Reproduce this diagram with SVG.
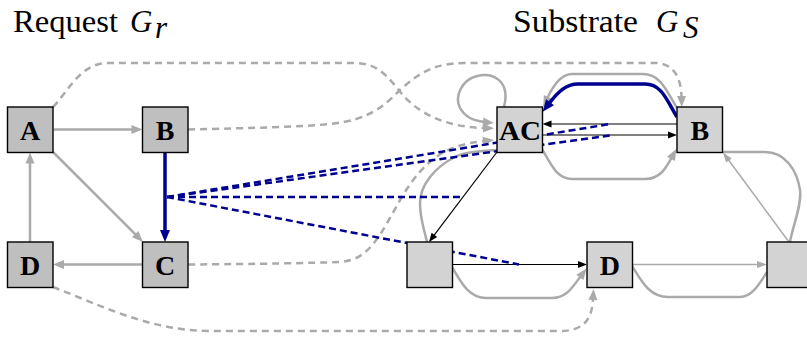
<svg xmlns="http://www.w3.org/2000/svg" width="807" height="338" viewBox="0 0 807 338">
  <defs>
    <style>
      .g  { stroke:#aaaaaa; stroke-width:2.5; fill:none; }
      .gd { stroke:#aaaaaa; stroke-width:2.5; fill:none; stroke-dasharray:7 5; }
      .gt { stroke:#aaaaaa; stroke-width:1.5; fill:none; }
      .k  { stroke:#000000; stroke-width:1.2; fill:none; }
      .bd { stroke:#000090; stroke-width:2.5; fill:none; stroke-dasharray:7 4; }
      .bt { stroke:#000090; stroke-width:3.5; fill:none; }
      .req rect { fill:#bfbfbf; stroke:#000; stroke-width:1.4; }
      .sub rect { fill:#d3d3d3; stroke:#000; stroke-width:1.4; }
      .lbl { font-family:"Liberation Serif", "DejaVu Serif", serif; font-weight:bold; font-size:28px; text-anchor:middle; fill:#000; }
      .title { font-family:"Liberation Serif", "DejaVu Serif", serif; font-size:31px; fill:#000; }
      .math { font-style:italic; }
    </style>
    <marker id="mg" markerUnits="userSpaceOnUse" markerWidth="12" markerHeight="10" refX="1" refY="5" orient="auto" overflow="visible">
      <path d="M0,0.5 L11,5 L0,9.5 z" fill="#aaaaaa"/>
    </marker>
    <marker id="mgs" markerUnits="userSpaceOnUse" markerWidth="11" markerHeight="10" refX="1" refY="5" orient="auto" overflow="visible">
      <path d="M0,1.5 L10,5 L0,8.5 z" fill="#aaaaaa"/>
    </marker>
    <marker id="mk" markerUnits="userSpaceOnUse" markerWidth="10" markerHeight="10" refX="1" refY="5" orient="auto" overflow="visible">
      <path d="M0,1.5 L9,5 L0,8.5 z" fill="#000"/>
    </marker>
    <marker id="mb" markerUnits="userSpaceOnUse" markerWidth="13" markerHeight="10" refX="1" refY="5" orient="auto" overflow="visible">
      <path d="M0,0 L12,5 L0,10 z" fill="#000090"/>
    </marker>
  </defs>

  <!-- titles -->
  <text class="title" x="13" y="32" textLength="105" lengthAdjust="spacingAndGlyphs">Request</text>
  <text class="title math" x="130" y="32">G</text>
  <text class="title math" x="155" y="38" font-size="22">r</text>
  <text class="title" x="513" y="32" textLength="125" lengthAdjust="spacingAndGlyphs">Substrate</text>
  <text class="title math" x="656" y="32">G</text>
  <text class="title math" x="683" y="38" font-size="22">S</text>

  <g id="connectors">
    <!-- node mapping (request to substrate) -->
    <path class="gd" d="M53,107 C68,92 80,63 108,63 L355,63 C380,63 390,80 402,94 C418,113 445,127 484,128" marker-end="url(#mg)"/>
    <path class="gd" d="M188,129.5 C250,128 300,127 330,124 C370,120 385,105 400,90 C420,72 435,63 465,63 L655,63 C672,63 681,75 681.5,97" marker-end="url(#mg)"/>
    <path class="gd" d="M188,264.5 C260,264 310,263 340,262 C370,260 380,235 403,195 C425,160 445,145 484,141" marker-end="url(#mg)"/>
    <path class="gd" d="M53,287 C100,305 150,331 210,331 L560,331 C585,331 592,318 593,299" marker-end="url(#mg)"/>

    <!-- request graph -->
    <path class="g" d="M53.5,129.5 H132.5" marker-end="url(#mg)"/>
    <path class="g" d="M53,152 L135.9,234.9" marker-end="url(#mg)"/>
    <path class="g" d="M30,242 V162.5" marker-end="url(#mg)"/>
    <path class="g" d="M142.5,264.5 H63" marker-end="url(#mg)"/>

    <!-- substrate graph, gray -->
    <path class="g" d="M504,107 C511,80 492,72 477,76 C462,80 454,96 460,108 C465,117 474,121 484,122" marker-end="url(#mg)"/>
    <path class="g" d="M677,108 C667,92 661,74 643,74 L572,74 C561,74 553,86 547.5,97.7" marker-end="url(#mg)"/>
    <path class="g" d="M542,149 C550,162 556,179 572,179 L645,179 C660,179 666,168 671.5,157.9" marker-end="url(#mg)"/>
    <path class="g" d="M497,150 C480,151 465,152 455,157 C435,167 420,185 420,203 C420,220 425,232 427,242"/>
    <path class="g" d="M452,267 C460,280 468,298 486,298 L552,298 C566,298 572,288 580.5,276.5" marker-end="url(#mg)"/>
    <path class="g" d="M632,266 C640,278 648,297 668,297 L740,297 C752,297 760,283 767,272"/>
    <path class="g" d="M790,242 C793,225 802,205 800,190 C797,170 785,152 765,152 L723,152"/>
    <path class="gt" d="M633,264.5 H758" marker-end="url(#mgs)"/>
    <path class="gt" d="M789,242 L728.3,159.7" marker-end="url(#mgs)"/>

    <!-- substrate graph, black -->
    <path class="k" d="M677,124 H550.5" marker-end="url(#mk)"/>
    <path class="k" d="M542.5,135 H669" marker-end="url(#mk)"/>
    <path class="k" d="M497,152 L433.8,235.6" marker-end="url(#mk)"/>
    <path class="k" d="M452,264.5 H579" marker-end="url(#mk)"/>

    <!-- edge mapping (B to C onto substrate path) -->
    <path class="bd" d="M167,197 L610,124"/>
    <path class="bd" d="M167,197 L610,135.5"/>
    <path class="bd" d="M167,197 L463,197"/>
    <path class="bd" d="M167,197 L519,264.5"/>

    <path class="bt" d="M165,152 V231" marker-end="url(#mb)"/>
    <path class="bt" d="M677,117 C667,101 662,84 645,84 L578,84 C566,84 558,92 549.4,103.1" marker-end="url(#mb)"/>
  </g>

  <!-- request nodes -->
  <g id="req-A" class="req"><rect x="7.5" y="107" width="45.5" height="45.5"/><text class="lbl" x="30.2" y="139.5">A</text></g>
  <g id="req-B" class="req"><rect x="142.5" y="107" width="45.5" height="45.5"/><text class="lbl" x="165.2" y="139.5">B</text></g>
  <g id="req-C" class="req"><rect x="142.5" y="242" width="45.5" height="45.5"/><text class="lbl" x="165.2" y="274.5">C</text></g>
  <g id="req-D" class="req"><rect x="7.5" y="242" width="45.5" height="45.5"/><text class="lbl" x="30.2" y="274.5">D</text></g>

  <!-- substrate nodes -->
  <g id="sub-AC" class="sub"><rect x="497" y="107" width="45.5" height="45.5"/><text class="lbl" x="520" y="139.5" textLength="42" lengthAdjust="spacingAndGlyphs">AC</text></g>
  <g id="sub-B" class="sub"><rect x="677" y="107" width="45.5" height="45.5"/><text class="lbl" x="699.8" y="139.5">B</text></g>
  <g id="sub-X" class="sub"><rect x="407" y="242" width="45.5" height="45.5"/></g>
  <g id="sub-D" class="sub"><rect x="587" y="242" width="45.5" height="45.5"/><text class="lbl" x="609.8" y="274.5">D</text></g>
  <g id="sub-E" class="sub"><rect x="767" y="242" width="45.5" height="45.5"/></g>
</svg>
